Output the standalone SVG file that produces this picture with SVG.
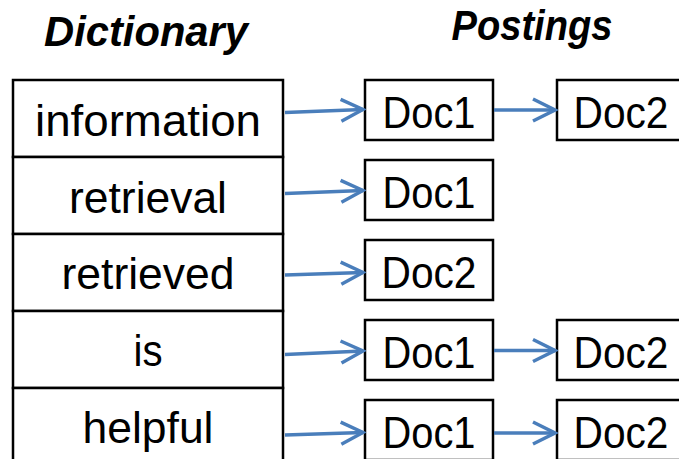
<svg xmlns="http://www.w3.org/2000/svg" width="679" height="459" viewBox="0 0 679 459">
  <style>
    .box { fill: #ffffff; stroke: #000000; stroke-width: 2.5; }
    .txt { font-family: "Liberation Sans", Arial, sans-serif; font-size: 45px; fill: #000000; text-anchor: middle; }
    .head { font-family: "Liberation Sans", Arial, sans-serif; font-size: 43px; font-weight: bold; font-style: italic; fill: #000000; text-anchor: middle; }
    .arrow { fill: none; stroke: #4A7EBB; stroke-width: 3.5; marker-end: url(#head); }
  </style>
  <defs>
    <marker id="head" markerUnits="userSpaceOnUse" viewBox="-3 -3 28 28" markerWidth="28" markerHeight="28" refX="22" refY="11" orient="auto">
      <path d="M0,0 L22,11 L0,22" fill="none" stroke="#4A7EBB" stroke-width="3.5" stroke-linejoin="miter" stroke-linecap="butt"/>
    </marker>
  </defs>
  <rect width="679" height="459" fill="#ffffff"/>

  <g id="titles">
    <text class="head" x="146" y="46" textLength="204" lengthAdjust="spacingAndGlyphs">Dictionary</text>
    <text class="head" x="532" y="40" textLength="161" lengthAdjust="spacingAndGlyphs">Postings</text>
  </g>

  <g id="dict-information">
    <rect class="box" x="13" y="80" width="270" height="77"/>
    <text class="txt" x="148" y="136" textLength="226" lengthAdjust="spacingAndGlyphs">information</text>
  </g>
  <g id="dict-retrieval">
    <rect class="box" x="13" y="157" width="270" height="77"/>
    <text class="txt" x="148" y="213" textLength="158" lengthAdjust="spacingAndGlyphs">retrieval</text>
  </g>
  <g id="dict-retrieved">
    <rect class="box" x="13" y="234" width="270" height="77"/>
    <text class="txt" x="148" y="289" textLength="173" lengthAdjust="spacingAndGlyphs">retrieved</text>
  </g>
  <g id="dict-is">
    <rect class="box" x="13" y="311" width="270" height="77"/>
    <text class="txt" x="148" y="366" textLength="29" lengthAdjust="spacingAndGlyphs">is</text>
  </g>
  <g id="dict-helpful">
    <rect class="box" x="13" y="388" width="270" height="77"/>
    <text class="txt" x="148" y="443" textLength="131" lengthAdjust="spacingAndGlyphs">helpful</text>
  </g>

  <g id="post-information-doc1">
    <rect class="box" x="365" y="80" width="128" height="60"/>
    <text class="txt" x="429" y="128" textLength="93" lengthAdjust="spacingAndGlyphs">Doc1</text>
  </g>
  <g id="post-information-doc2">
    <rect class="box" x="557" y="80" width="140" height="60"/>
    <text class="txt" x="621" y="128" textLength="95" lengthAdjust="spacingAndGlyphs">Doc2</text>
  </g>
  <g id="post-retrieval-doc1">
    <rect class="box" x="365" y="160" width="128" height="60"/>
    <text class="txt" x="429" y="208" textLength="93" lengthAdjust="spacingAndGlyphs">Doc1</text>
  </g>
  <g id="post-retrieved-doc2">
    <rect class="box" x="365" y="240" width="128" height="60"/>
    <text class="txt" x="429" y="288" textLength="95" lengthAdjust="spacingAndGlyphs">Doc2</text>
  </g>
  <g id="post-is-doc1">
    <rect class="box" x="365" y="320" width="128" height="60"/>
    <text class="txt" x="429" y="368" textLength="93" lengthAdjust="spacingAndGlyphs">Doc1</text>
  </g>
  <g id="post-is-doc2">
    <rect class="box" x="557" y="320" width="140" height="60"/>
    <text class="txt" x="621" y="368" textLength="95" lengthAdjust="spacingAndGlyphs">Doc2</text>
  </g>
  <g id="post-helpful-doc1">
    <rect class="box" x="365" y="400" width="128" height="60"/>
    <text class="txt" x="429" y="448" textLength="93" lengthAdjust="spacingAndGlyphs">Doc1</text>
  </g>
  <g id="post-helpful-doc2">
    <rect class="box" x="557" y="400" width="140" height="60"/>
    <text class="txt" x="621" y="448" textLength="95" lengthAdjust="spacingAndGlyphs">Doc2</text>
  </g>

  <g id="connectors">
    <path class="arrow" d="M285,112.5 L363,109.5"/>
    <path class="arrow" d="M494,110 L555,110"/>
    <path class="arrow" d="M285,193.5 L363,190.5"/>
    <path class="arrow" d="M285,275 L363,272.5"/>
    <path class="arrow" d="M285,354.5 L363,351"/>
    <path class="arrow" d="M494,350.5 L555,350.5"/>
    <path class="arrow" d="M285,435 L363,432.5"/>
    <path class="arrow" d="M494,433 L555,433"/>
  </g>
</svg>
